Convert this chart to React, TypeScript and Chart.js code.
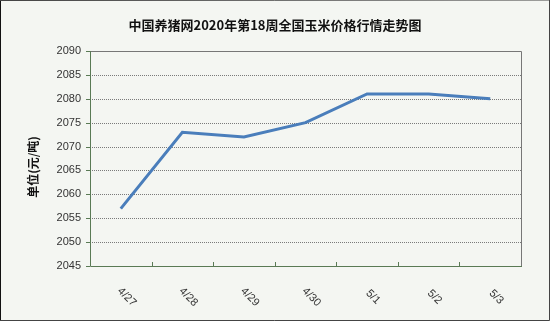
import React, { useEffect, useRef } from "react";
import { Chart, registerables } from "chart.js";

Chart.register(...registerables);

const titleText = "中国养猪网2020年第18周全国玉米价格行情走势图";
const yAxisTitle = "单位(元/吨)";
const categories = ["4/27", "4/28", "4/29", "4/30", "5/1", "5/2", "5/3"];
const prices = [2057, 2073, 2072, 2075, 2081, 2081, 2080];
const yMin = 2045;
const yMax = 2090;
const yStep = 5;

const W = 550;
const H = 321;

const decorPlugin = {
  id: "decor",
  beforeDraw(chart: any) {
    const ctx = chart.ctx;
    ctx.save();
    ctx.fillStyle = "#f4f6f2";
    ctx.fillRect(0, 0, W, H);
    ctx.strokeStyle = "#111";
    ctx.lineWidth = 1;
    ctx.beginPath();
    ctx.moveTo(0.5, 0);
    ctx.lineTo(0.5, H);
    ctx.stroke();
    ctx.strokeStyle = "#444";
    ctx.beginPath();
    ctx.moveTo(0, H - 0.5);
    ctx.lineTo(W - 0.5, H - 0.5);
    ctx.lineTo(W - 0.5, 0);
    ctx.lineTo(0, 0.5);
    ctx.stroke();
    ctx.restore();
  },
  beforeDatasetsDraw(chart: any) {
    const ctx = chart.ctx;
    const area = chart.chartArea;
    const ys = chart.scales.y;
    const xs = chart.scales.x;
    ctx.save();
    ctx.strokeStyle = "#7a7a7a";
    ctx.lineWidth = 1;
    ctx.setLineDash([1, 1]);
    ys.ticks.forEach((t: any) => {
      if (t.value === yMin || t.value === yMax) return;
      const py = Math.round(ys.getPixelForValue(t.value)) + 0.5;
      ctx.beginPath();
      ctx.moveTo(area.left, py);
      ctx.lineTo(area.right, py);
      ctx.stroke();
    });
    ctx.setLineDash([]);
    ctx.strokeStyle = "#777";
    ctx.beginPath();
    ctx.moveTo(area.left, Math.round(area.top) + 0.5);
    ctx.lineTo(Math.round(area.right) + 0.5, Math.round(area.top) + 0.5);
    ctx.lineTo(Math.round(area.right) + 0.5, area.bottom);
    ctx.stroke();
    ctx.strokeStyle = "#5a7a55";
    ctx.beginPath();
    ctx.moveTo(Math.round(area.left) + 0.5, area.top);
    ctx.lineTo(Math.round(area.left) + 0.5, Math.round(area.bottom) + 0.5);
    ctx.lineTo(area.right + 1, Math.round(area.bottom) + 0.5);
    ctx.stroke();
    ys.ticks.forEach((t: any) => {
      const py = Math.round(ys.getPixelForValue(t.value)) + 0.5;
      ctx.beginPath();
      ctx.moveTo(area.left - 4, py);
      ctx.lineTo(area.left, py);
      ctx.stroke();
    });
    const n = categories.length;
    const step = (area.right - area.left) / n;
    for (let i = 1; i < n; i++) {
      const px = Math.round(xs.getPixelForValue(i) - step / 2) + 0.5;
      ctx.beginPath();
      ctx.moveTo(px, area.bottom);
      ctx.lineTo(px, area.bottom - 4);
      ctx.stroke();
    }
    ctx.fillStyle = "#333";
    ctx.font = "11px 'Liberation Sans', Arial, sans-serif";
    ctx.textAlign = "right";
    ctx.textBaseline = "middle";
    ys.ticks.forEach((t: any) => {
      const py = ys.getPixelForValue(t.value);
      ctx.fillText(String(t.value), area.left - 9, py);
    });
    ctx.textAlign = "center";
    categories.forEach((c, i) => {
      const px = xs.getPixelForValue(i);
      ctx.save();
      ctx.translate(px + 6, area.bottom + 31);
      ctx.rotate(Math.PI / 4);
      ctx.fillText(c, 0, 0);
      ctx.restore();
    });
    ctx.fillStyle = "#111";
    ctx.font = "bold 13px 'Noto Sans CJK SC', sans-serif";
    ctx.textAlign = "center";
    ctx.textBaseline = "middle";
    ctx.fillText(titleText, 275, 25);
    ctx.save();
    ctx.translate(33, 167);
    ctx.rotate(-Math.PI / 2);
    ctx.font = "bold 12px 'Noto Sans CJK SC', sans-serif";
    ctx.fillText(yAxisTitle, 0, 0);
    ctx.restore();
    ctx.restore();
  },
};

export default function App() {
  const ref = useRef<HTMLCanvasElement>(null);
  useEffect(() => {
    const chart = new Chart(ref.current as HTMLCanvasElement, {
      type: "line",
      data: {
        labels: categories,
        datasets: [
          {
            data: prices,
            borderColor: "#4a7ebb",
            borderWidth: 3,
            pointRadius: 0,
            tension: 0,
            fill: false,
          },
        ],
      },
      options: {
        animation: false,
        responsive: false,
        events: [],
        layout: { padding: { left: 0, right: 29, top: 51, bottom: 0 } },
        plugins: {
          legend: { display: false },
          title: { display: false },
          tooltip: { enabled: false },
        },
        scales: {
          x: {
            type: "category",
            offset: true,
            grid: { display: false },
            border: { display: false },
            ticks: { display: false },
            afterFit: (s: any) => {
              s.height = 55;
            },
          },
          y: {
            min: yMin,
            max: yMax,
            ticks: { display: false, stepSize: yStep },
            grid: { display: false },
            border: { display: false },
            afterFit: (s: any) => {
              s.width = 90;
            },
          },
        },
      },
      plugins: [decorPlugin],
    } as any);
    return () => chart.destroy();
  }, []);
  return (
    <div style={{ position: "fixed", left: 0, top: 0, width: W, height: H }}>
      <canvas ref={ref} width={W} height={H} style={{ display: "block" }} />
    </div>
  );
}
